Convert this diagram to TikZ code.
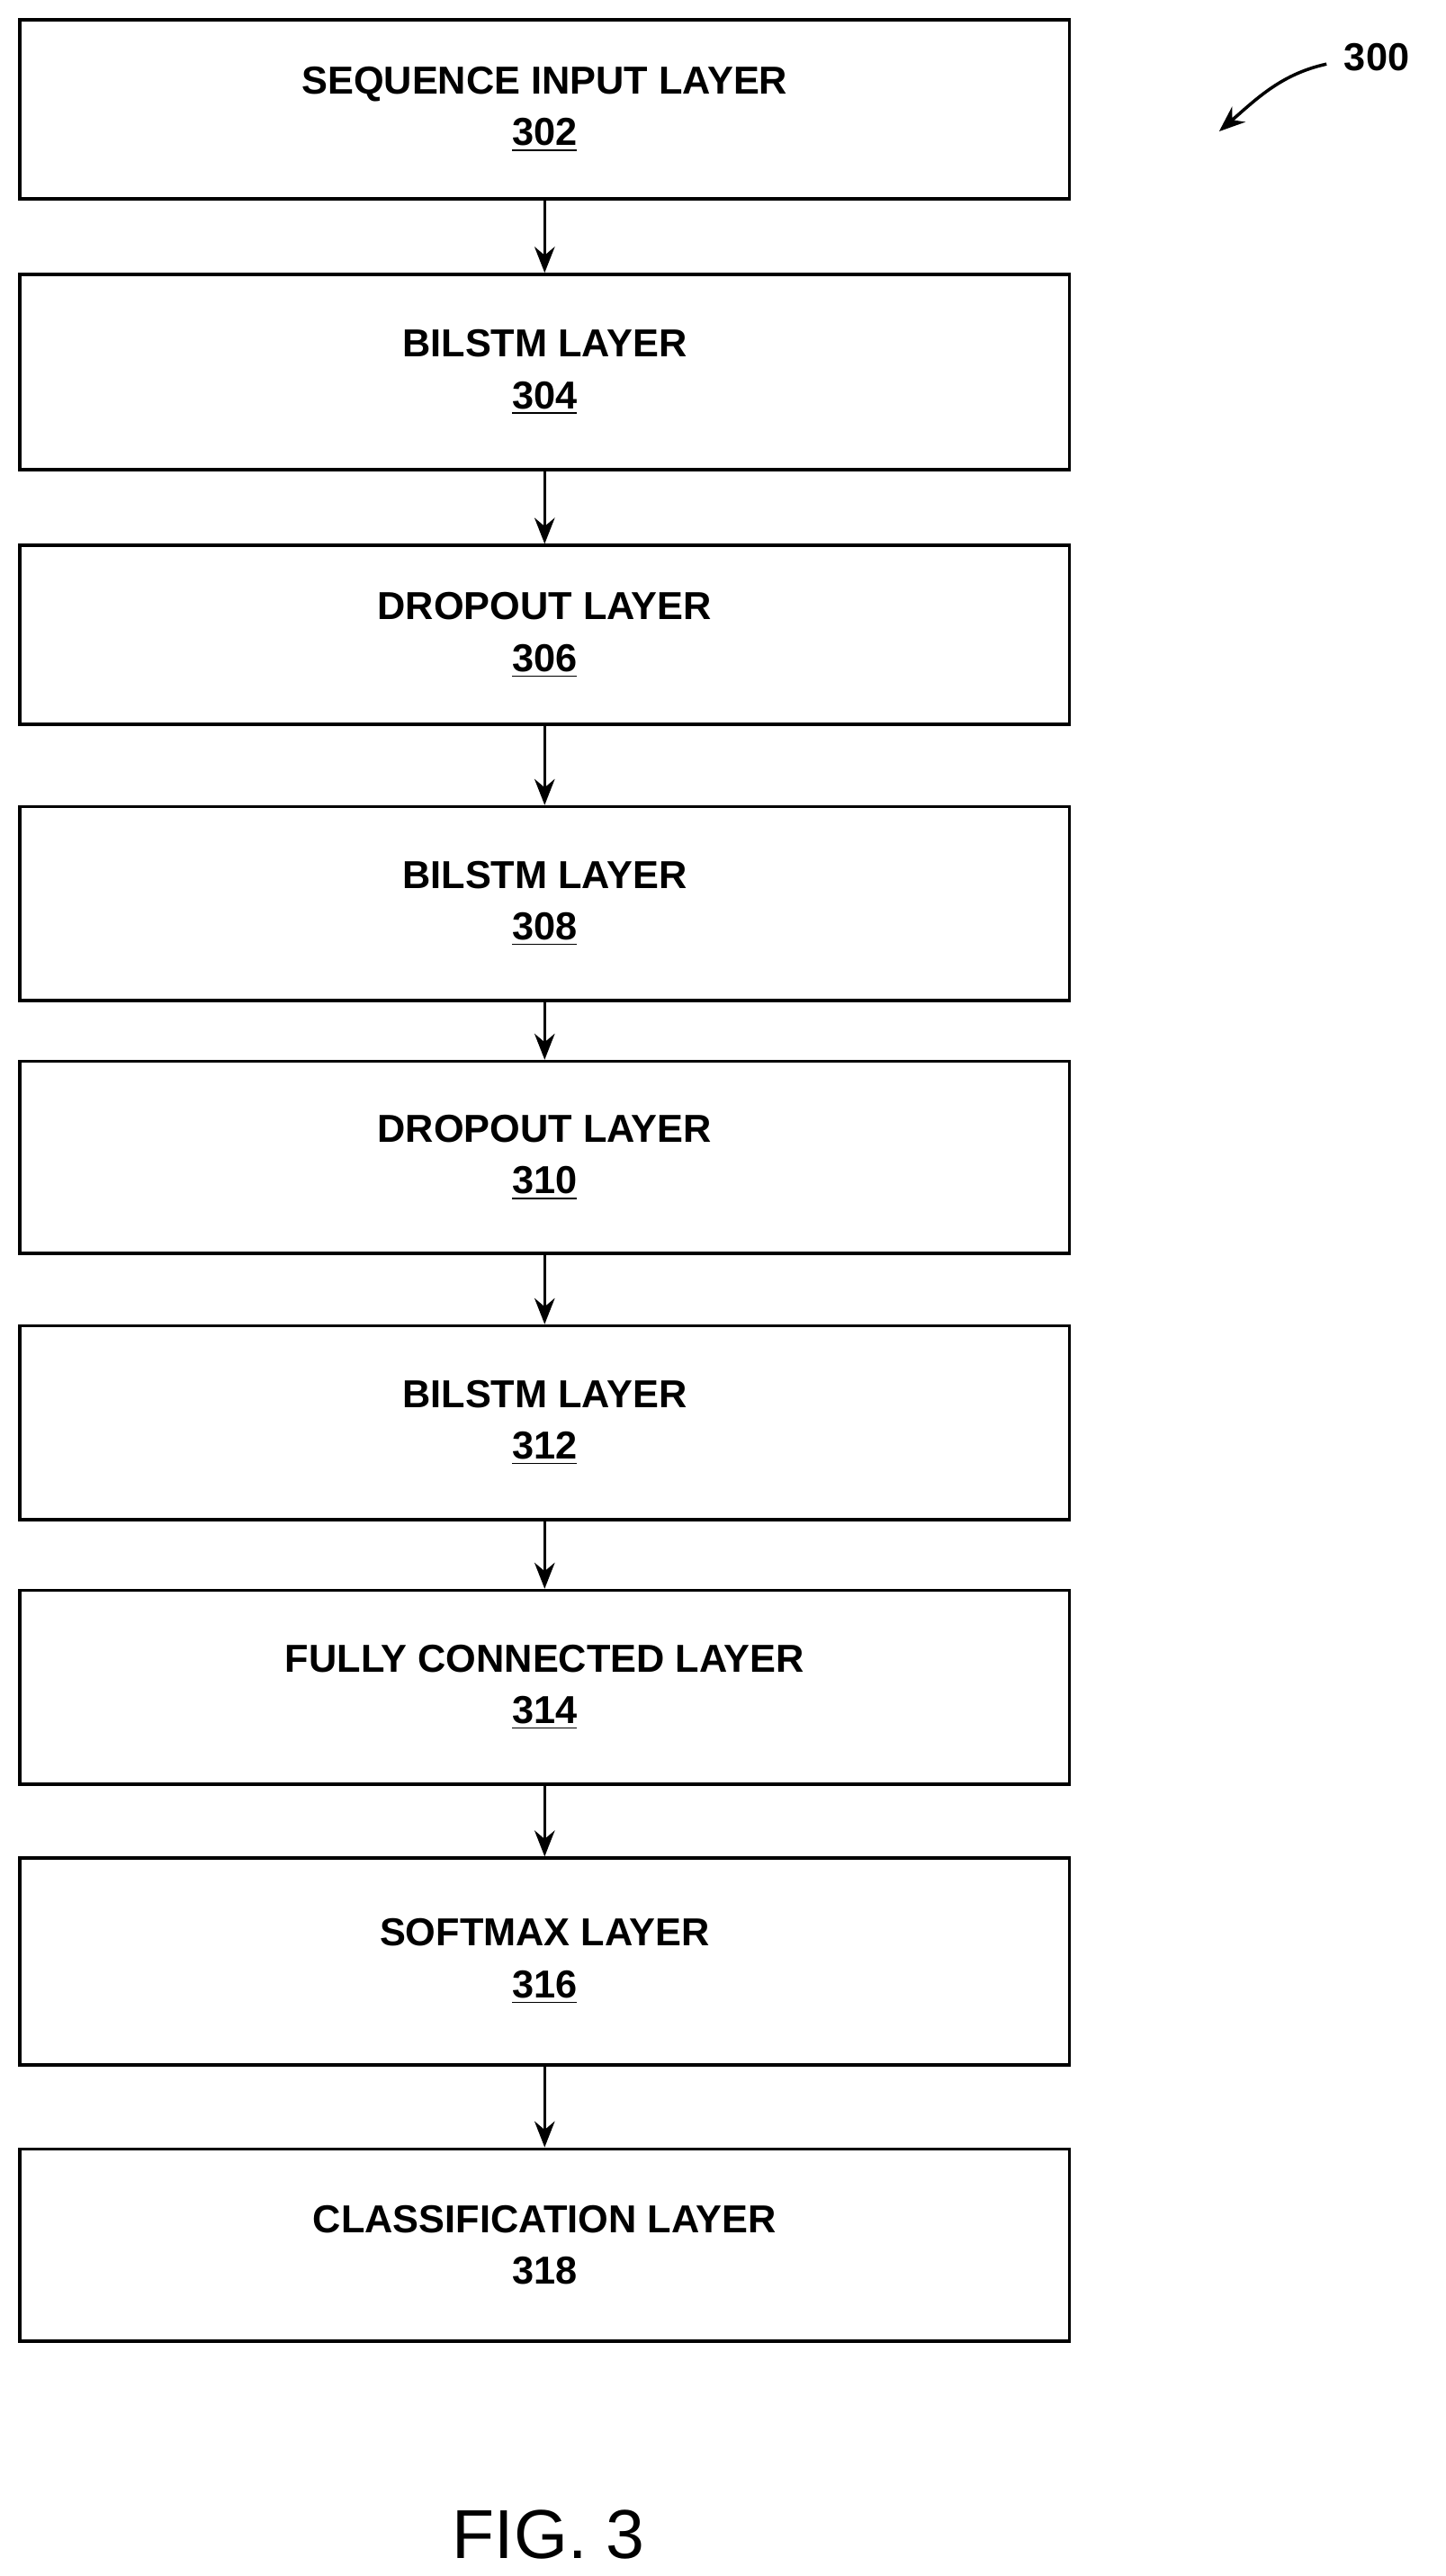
\documentclass[tikz,border=0pt]{standalone}
\usepackage{fontspec}
\setmainfont{Liberation Sans}
\usetikzlibrary{positioning,arrows.meta}

\begin{document}
\begin{tikzpicture}[x=0.02cm,y=-0.02cm,line width=1.1pt]
  \tikzstyle{layer}=[draw, rectangle, minimum width=12.78cm, align=center,
    font=\fontsize{13.5}{17}\selectfont\bfseries, inner sep=0pt]
  \tikzstyle{flow}=[-{Stealth[length=9pt,width=7pt]}]
  \useasboundingbox (0,0) rectangle (880,1568);
  \node[layer, minimum height=2.18cm] (L_302) at (331.5,66.5)  {SEQUENCE INPUT LAYER\\[1pt]\underline{302}};
  \node[layer, minimum height=2.38cm] (L_304) at (331.5,226.5) {BILSTM LAYER\\[1pt]\underline{304}};
  \node[layer, minimum height=2.18cm] (L_306) at (331.5,386.5) {DROPOUT LAYER\\[1pt]\underline{306}};
  \node[layer, minimum height=2.36cm] (L_308) at (331.5,550)   {BILSTM LAYER\\[1pt]\underline{308}};
  \node[layer, minimum height=2.34cm] (L_310) at (331.5,704.5) {DROPOUT LAYER\\[1pt]\underline{310}};
  \node[layer, minimum height=2.36cm] (L_312) at (331.5,866)   {BILSTM LAYER\\[1pt]\underline{312}};
  \node[layer, minimum height=2.36cm] (L_314) at (331.5,1027)  {FULLY CONNECTED LAYER\\[1pt]\underline{314}};
  \node[layer, minimum height=2.52cm] (L_316) at (331.5,1194)  {SOFTMAX LAYER\\[1pt]\underline{316}};
  \node[layer, minimum height=2.34cm] (L_318) at (331.5,1366.5){CLASSIFICATION LAYER\\[1pt]318};

  \draw[flow] (L_302) -- (L_304);
  \draw[flow] (L_304) -- (L_306);
  \draw[flow] (L_306) -- (L_308);
  \draw[flow] (L_308) -- (L_310);
  \draw[flow] (L_310) -- (L_312);
  \draw[flow] (L_312) -- (L_314);
  \draw[flow] (L_314) -- (L_316);
  \draw[flow] (L_316) -- (L_318);

  \node[font=\fontsize{13.5}{16}\selectfont\bfseries] (num) at (838,35) {300};
  \coordinate (tip) at (742,80);
  \draw[flow] (num.west) ++(-4,4) .. controls (780,45) and (765,60) .. (tip);

  \node[font=\fontsize{24}{28}\selectfont] (fig) at (334,1543) {FIG. 3};
\end{tikzpicture}
\end{document}
